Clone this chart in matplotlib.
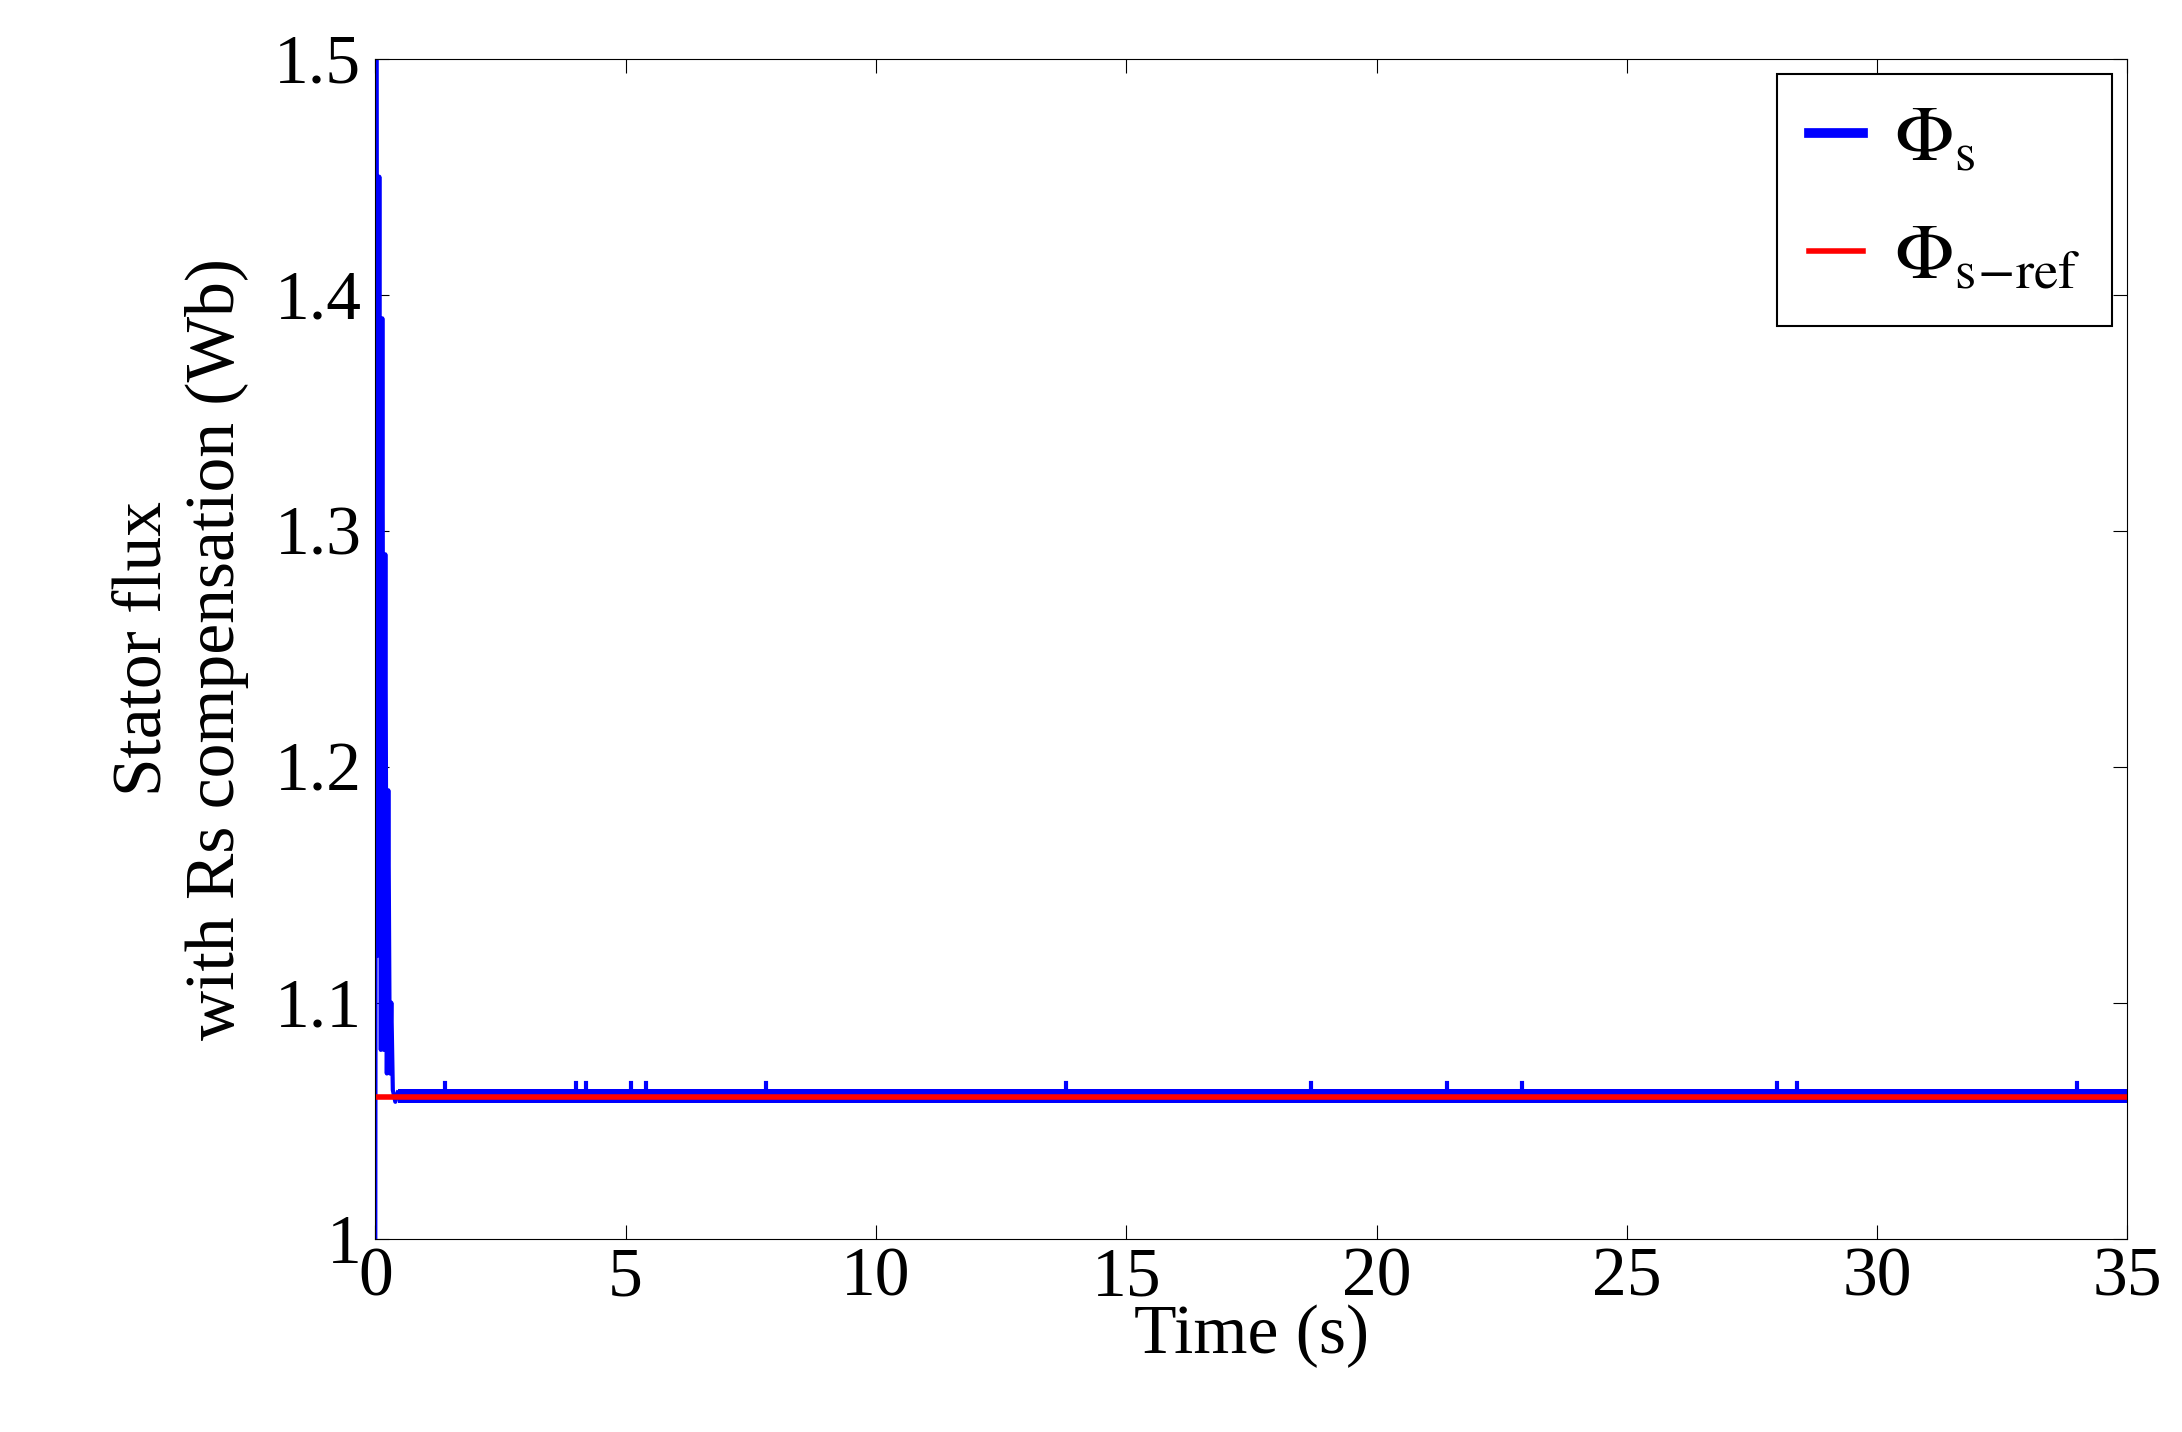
import matplotlib.pyplot as plt

plt.rcParams['font.family'] = ['Liberation Serif', 'DejaVu Serif']
plt.rcParams['mathtext.fontset'] = 'stix'

# transient part of the stator flux
t_start = [0.0, 0.02, 0.05, 0.08, 0.11, 0.14, 0.17, 0.2, 0.23, 0.26, 0.29, 0.32, 0.35, 0.4, 0.45]
flux_start = [1.0, 1.5, 1.12, 1.45, 1.08, 1.39, 1.08, 1.29, 1.07, 1.19, 1.07, 1.1, 1.063, 1.058, 1.062]

# steady-state ripple band edges
t_band = [0.45, 35.0]
flux_band_hi = [1.0635, 1.0635]
flux_band_lo = [1.0575, 1.0575]

# small ripple spikes seen along the band
t_spikes = [1.4, 4.0, 4.2, 5.1, 5.4, 7.8, 13.8, 18.7, 21.4, 22.9, 28.0, 28.4, 34.0]
spike_hi = 1.066

t_ref = [0.0, 35.0]
flux_ref = [1.06, 1.06]

fig = plt.figure(figsize=(21.82, 14.32), dpi=100)
ax = fig.add_axes([0.172, 0.135, 0.803, 0.824])

ax.plot(t_start, flux_start, color='blue', lw=3)
ax.fill_between(t_band, flux_band_lo, flux_band_hi, color='blue', lw=0)
for ts in t_spikes:
    ax.plot([ts, ts], [flux_band_hi[0], spike_hi], color='blue', lw=3)
ax.plot([], [], color='blue', lw=7, label=r'$\Phi_{\rm s}$')
ax.plot(t_ref, flux_ref, color='red', lw=4, label=r'$\Phi_{\rm s\!-\!ref}$')

ax.set_xlim(0, 35)
ax.set_ylim(1, 1.5)
ax.set_xticks([0, 5, 10, 15, 20, 25, 30, 35])
ax.set_yticks([1, 1.1, 1.2, 1.3, 1.4, 1.5])
ax.set_yticklabels(['1', '1.1', '1.2', '1.3', '1.4', '1.5'])
ax.tick_params(labelsize=50, direction='in', length=10, top=True, right=True)
ax.tick_params(axis='x', pad=6)
ax.tick_params(axis='y', pad=10)
ax.set_xlabel('Time (s)', fontsize=50, labelpad=-4)
ax.set_ylabel('Stator flux\nwith Rs compensation (Wb)', fontsize=50, labelpad=18)

leg = ax.legend(loc='upper right', fontsize=56, fancybox=False, framealpha=1,
                edgecolor='black', handlelength=0.7, handletextpad=0.4,
                borderpad=0.4, labelspacing=0.6, borderaxespad=0.2)
leg.get_frame().set_linewidth(1.5)

fig.savefig('out.png')
